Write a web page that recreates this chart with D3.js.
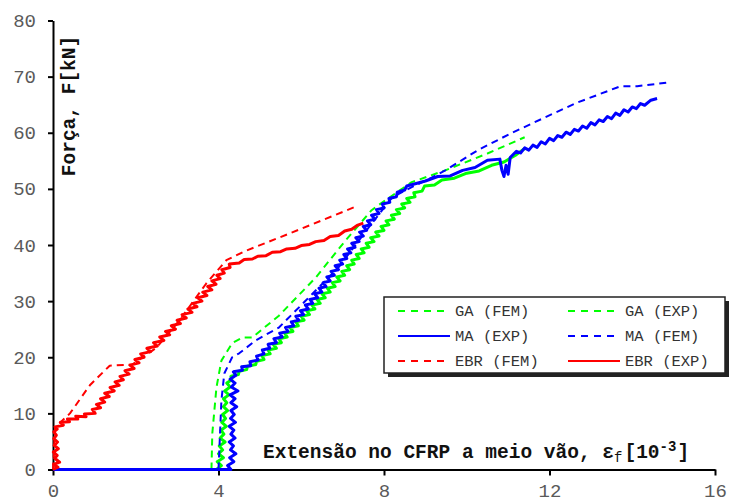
<!DOCTYPE html>
<html>
<head>
<meta charset="utf-8">
<script src="https://cdn.jsdelivr.net/npm/d3@7"></script>
<style>
  body { margin: 0; background: #fff; }
  svg { display: block; }
</style>
</head>
<body>
<svg id="chart" width="729" height="502"></svg>
<script>
// axis ticks
const xTicks = [0, 4, 8, 12, 16];
const yTicks = [0, 10, 20, 30, 40, 50, 60, 70, 80];

// EBR, experimental (red, solid, noisy) - [strain 10^-3, force kN]
const ebrExp = [[0,0],[0.12,0.4],[0.02,0.9],[0.16,1.3],[0.04,2.0],[0.1,2.5],[0.01,3.1],[0.13,3.7],[0.03,4.3],[0.11,4.9],
  [0.02,5.5],[0.08,6.1],[0.02,6.7],[0.1,7.2],[0.05,7.6],[0.25,7.9],[0.18,8.4],[0.4,8.5],[0.35,9.0],[0.6,9.0],
  [0.55,9.5],[0.8,9.4],[0.76,9.9],[1.02,10.0],[0.95,10.7],[1.15,11.0],[1.05,11.6],[1.25,12.0],[1.15,12.6],[1.36,13.0],
  [1.25,13.6],[1.48,14.0],[1.38,14.6],[1.6,15.0],[1.5,15.6],[1.7,16.0],[1.62,16.6],[1.84,17.0],[1.74,17.6],[1.96,18.0],
  [1.86,18.6],[2.08,19.0],[1.98,19.6],[2.2,20.0],[2.12,20.6],[2.36,21.0],[2.27,21.6],[2.52,22.0],[2.43,22.6],[2.68,23.0],
  [2.58,23.6],[2.82,24.0],[2.72,24.6],[2.96,25.0],[2.86,25.6],[3.08,26.0],[3.0,26.6],[3.22,27.0],[3.12,27.6],[3.36,28.0],
  [3.26,28.6],[3.48,29.0],[3.38,29.6],[3.6,30.0],[3.5,30.6],[3.72,31.0],[3.62,31.6],[3.84,32.0],[3.74,32.6],[3.94,33.0],
  [3.84,33.6],[4.04,34.0],[3.96,34.6],[4.14,35.0],[4.08,35.6],[4.28,36.0],[4.26,36.6],[4.5,36.8],[4.62,37.4],[4.82,37.5],
  [4.95,38.0],[5.15,38.1],[5.3,38.7],[5.5,38.8],[5.65,39.3],[5.85,39.4],[6.0,39.9],[6.2,40.1],[6.35,40.6],[6.55,40.8],
  [6.7,41.5],[6.9,41.7],[7.05,42.5],[7.22,42.8],[7.35,43.5],[7.5,43.9]];

// EBR, FEM (red, dashed)
const ebrFem = [[0,0],[0.05,7.5],[0.41,10],[0.89,15],[1.37,18.5],[1.92,18.7],[2.5,21.7],[3.06,26.6],
  [3.7,33.1],[4.19,37.3],[4.67,39],[5.7,42],[7.27,46.7]];

// GA, FEM (green, dashed)
const gaFem = [[3.83,0],[3.85,6.4],[3.95,14.6],[4.07,19.4],[4.33,22.5],[4.57,23.5],[4.81,23.5],[5.46,27.4],
  [6.35,34.2],[7.07,40.8],[7.7,46.2],[8.04,48],[8.67,51.2],[9.48,53.3],[10.5,56.3],[11.4,59.2]];

// GA, experimental (green, solid, noisy)
const gaExp = [[3.95,0],[4.07,0.7],[3.97,1.4],[4.12,2.1],[4.0,2.8],[4.1,3.5],[4.02,4.2],[4.16,4.9],[4.04,5.6],[4.13,6.3],
  [4.06,7.0],[4.19,7.7],[4.08,8.4],[4.17,9.1],[4.1,9.8],[4.22,10.5],[4.12,11.2],[4.2,11.9],[4.12,12.6],[4.25,13.3],
  [4.15,14.0],[4.28,14.7],[4.2,15.4],[4.32,16.0],[4.3,16.6],[4.48,16.9],[4.5,17.5],[4.68,17.8],[4.7,18.4],[4.9,18.7],
  [4.92,19.3],[5.1,19.6],[5.05,20.3],[5.25,20.6],[5.2,21.3],[5.4,21.6],[5.32,22.3],[5.52,22.6],[5.46,23.3],[5.66,23.6],
  [5.6,24.3],[5.8,24.6],[5.73,25.3],[5.93,25.6],[5.87,26.3],[6.07,26.6],[6.0,27.3],[6.2,27.6],[6.13,28.3],[6.33,28.6],
  [6.26,29.3],[6.46,29.6],[6.38,30.3],[6.58,30.6],[6.5,31.3],[6.7,31.6],[6.63,32.3],[6.82,32.6],[6.75,33.3],[6.94,33.6],
  [6.86,34.3],[7.05,34.6],[6.98,35.3],[7.17,35.6],[7.1,36.3],[7.28,36.6],[7.22,37.3],[7.4,37.6],[7.33,38.3],[7.52,38.6],
  [7.45,39.3],[7.64,39.6],[7.57,40.3],[7.76,40.6],[7.68,41.3],[7.88,41.6],[7.8,42.3],[8.0,42.6],[7.93,43.3],[8.12,43.6],
  [8.05,44.3],[8.25,44.6],[8.18,45.3],[8.38,45.6],[8.3,46.3],[8.5,46.6],[8.43,47.3],[8.63,47.6],[8.55,48.3],[8.75,48.6],
  [8.72,49.3],[8.92,49.6],[8.98,50.5],[9.22,50.7],[9.4,51.6],[9.7,51.9],[10.0,52.8],[10.3,53.2],[10.6,54.2],[10.9,54.8],
  [11.2,56.1],[11.4,57.2]];

// MA, experimental (blue, solid, noisy)
const maExp = [[0,0],[4.3,0],[4.22,0.7],[4.37,1.4],[4.27,2.1],[4.42,2.8],[4.29,3.5],[4.36,4.2],[4.26,4.9],[4.4,5.6],
  [4.3,6.3],[4.37,7.0],[4.26,7.7],[4.41,8.4],[4.29,9.1],[4.38,9.8],[4.3,10.5],[4.44,11.2],[4.3,11.9],[4.4,12.6],
  [4.28,13.3],[4.47,14.0],[4.31,14.7],[4.4,15.4],[4.28,16.1],[4.42,16.8],[4.36,17.4],[4.58,17.7],[4.56,18.3],[4.78,18.5],
  [4.76,19.2],[4.96,19.5],[4.92,20.2],[5.1,20.6],[5.06,21.3],[5.24,21.6],[5.2,22.3],[5.4,22.6],[5.34,23.3],[5.54,23.6],
  [5.48,24.3],[5.68,24.6],[5.62,25.3],[5.82,25.6],[5.76,26.3],[5.94,26.6],[5.87,27.3],[6.06,27.6],[5.98,28.3],[6.17,28.6],
  [6.1,29.3],[6.28,29.6],[6.21,30.3],[6.4,30.6],[6.32,31.3],[6.5,31.6],[6.43,32.3],[6.6,32.6],[6.53,33.3],[6.7,33.6],
  [6.62,34.3],[6.8,34.6],[6.72,35.3],[6.9,35.6],[6.82,36.3],[7.0,36.6],[6.93,37.3],[7.1,37.6],[7.03,38.3],[7.2,38.6],
  [7.12,39.3],[7.3,39.6],[7.22,40.3],[7.4,40.6],[7.32,41.3],[7.5,41.6],[7.41,42.3],[7.58,42.6],[7.5,43.3],[7.68,43.6],
  [7.6,44.3],[7.78,44.6],[7.7,45.3],[7.88,45.6],[7.82,46.3],[8.0,46.6],[7.96,47.3],[8.14,47.6],[8.12,48.3],[8.3,48.6],
  [8.32,49.4],[8.5,49.8],[8.55,50.5],[8.8,51.0],[9.0,51.4],[9.3,52.2],[9.6,52.3],[9.9,53.3],[10.2,53.8],[10.5,55.1],
  [10.8,55.3],[10.85,53.3],[10.9,52.2],[10.95,54.2],[11.0,52.6],[11.05,55.6],[11.2,56.7],[11.3,56.4],[11.4,57.3],
  [11.5,56.9],[11.6,57.8],[11.7,57.4],[11.8,58.4],[11.9,58.0],[12.0,59.0],[12.1,58.6],[12.2,59.5],[12.3,59.2],
  [12.4,60.1],[12.5,59.7],[12.6,60.6],[12.7,60.3],[12.8,61.2],[12.9,60.8],[13.0,61.8],[13.1,61.4],[13.2,62.3],
  [13.3,62.0],[13.4,62.9],[13.5,62.5],[13.6,63.5],[13.7,63.1],[13.8,64.1],[13.9,63.7],[14.0,64.6],[14.1,64.3],
  [14.2,65.2],[14.3,64.9],[14.45,65.8],[14.6,66.1]];

// MA, FEM (blue, dashed)
const maFem = [[4.0,0],[4.02,3.4],[4.07,12.3],[4.14,17.1],[4.33,20],[4.5,20.7],[4.9,23],[5.46,25.3],[6.11,30.1],
  [6.9,36],[7.7,43.8],[8.2,48.5],[8.67,50.3],[9.15,52],[9.48,53.3],[10.27,56.9],[11.07,59.9],[11.88,62.7],
  [12.68,65.4],[13.72,68.3],[14.12,68.3],[14.92,69]];

// legend, two columns x three rows
const legendLabels = ["GA (FEM)", "GA (EXP)", "MA (EXP)", "MA (FEM)", "EBR (FEM)", "EBR (EXP)"];
const legendColors = ["#00ff00", "#00ff00", "#0000ff", "#0000ff", "#ff0000", "#ff0000"];
const legendDashed = [true, true, false, true, true, false];

const svg = d3.select("#chart");
const mono = "'Liberation Mono', 'Courier New', monospace";

let x = d3.scaleLinear().domain([0, 16]).range([53, 715]);
let y = d3.scaleLinear().domain([0, 80]).range([469.5, 20.5]);

// axes
let xAxis = svg.append("g")
    .attr("transform", `translate(0,${y(0)})`)
    .call(d3.axisBottom(x).tickValues(xTicks).tickSize(6).tickPadding(8).tickSizeOuter(0));
let yAxis = svg.append("g")
    .attr("transform", `translate(${x(0)},0)`)
    .call(d3.axisLeft(y).tickValues(yTicks).tickSize(5).tickPadding(12).tickSizeOuter(0));

[xAxis, yAxis].forEach(g => {
    g.select(".domain").attr("stroke", "#000").attr("stroke-width", 2);
    g.selectAll(".tick line").attr("stroke", "#000").attr("stroke-width", 2);
    g.selectAll(".tick text")
        .attr("font-family", mono)
        .attr("font-size", 19)
        .attr("fill", "#5a5a5a");
});

// curves
let line = d3.line().x(d => x(d[0])).y(d => y(d[1]));

let series = [
    {data: gaFem, color: "#00ff00", dashed: true},
    {data: gaExp, color: "#00ff00", dashed: false},
    {data: maExp, color: "#0000ff", dashed: false},
    {data: maFem, color: "#0000ff", dashed: true},
    {data: ebrFem, color: "#ff0000", dashed: true},
    {data: ebrExp, color: "#ff0000", dashed: false}
];

svg.append("g").selectAll("path")
    .data(series)
    .enter().append("path")
    .attr("d", d => line(d.data))
    .attr("fill", "none")
    .attr("stroke", d => d.color)
    .attr("stroke-width", d => d.dashed ? 2 : 3)
    .attr("stroke-linejoin", "round")
    .attr("stroke-dasharray", d => d.dashed ? "7,5" : null);

// axis titles
svg.append("text")
    .attr("transform", "translate(75,106) rotate(-90)")
    .attr("text-anchor", "middle")
    .attr("font-family", mono)
    .attr("font-weight", "bold")
    .attr("font-size", 19.5)
    .attr("fill", "#111")
    .text("Força, F[kN]");

let xt = svg.append("text")
    .attr("x", 263).attr("y", 458)
    .attr("font-family", mono)
    .attr("font-weight", "bold")
    .attr("font-size", 19.5)
    .attr("fill", "#111");
xt.append("tspan").text("Extensão no CFRP a meio vão, ε");
xt.append("tspan").attr("font-size", 14).attr("font-weight", "normal").attr("dy", 4).text("f");
xt.append("tspan").attr("dy", -4).attr("dx", 2).text("[10");
xt.append("tspan").attr("font-size", 14).attr("dy", -7).text("-3");
xt.append("tspan").attr("dy", 7).attr("dx", 1).text("]");

// legend box with shadow
let lg = svg.append("g");
lg.append("rect").attr("x", 388).attr("y", 301).attr("width", 341).attr("height", 76).attr("fill", "#222");
lg.append("rect").attr("x", 384).attr("y", 297).attr("width", 341).attr("height", 76)
    .attr("fill", "#fff").attr("stroke", "#222").attr("stroke-width", 1.5);

let items = lg.selectAll("g.item")
    .data(legendLabels)
    .enter().append("g")
    .attr("class", "item")
    .attr("transform", (d, i) => `translate(${i % 2 ? 568 : 398},${[311, 336, 361][Math.floor(i / 2)]})`);

items.append("line")
    .attr("x1", 0).attr("x2", (d, i) => legendDashed[i] ? 49 : 52)
    .attr("y1", 0).attr("y2", 0)
    .attr("stroke", (d, i) => legendColors[i])
    .attr("stroke-width", 2)
    .attr("stroke-dasharray", (d, i) => legendDashed[i] ? "7,6" : null);

items.append("text")
    .attr("x", 57).attr("y", 5)
    .attr("font-family", mono)
    .attr("font-size", 15.5)
    .attr("fill", "#333")
    .text(d => d);
</script>
</body>
</html>
